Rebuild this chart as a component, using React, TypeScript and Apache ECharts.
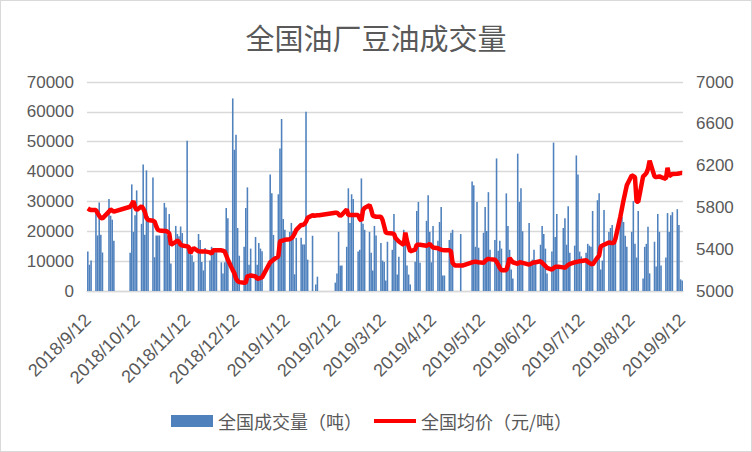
import React, { useEffect, useRef } from "react";
import * as echarts from "echarts";

// Weekly rows (Mon..Fri), first row = week of 2018/9/10
const volumeWeeks: (number | null)[][] = [
  [null, null, 13200, 8800, 10200],
  [26000, 18600, 29600, 18800, 12900],
  [null, 30800, 25200, 23900, 16800],
  [null, null, null, null, null],
  [12800, 35700, 19800, 25400, 33700],
  [22500, 42400, 18800, 40400, 25000],
  [38000, 11300, 18600, 18600, 18600],
  [29500, 28000, 18600, 25800, 9200],
  [21800, 19100, 18300, 21600, 19400],
  [50300, 14700, 14700, 12000, 9700],
  [19100, 17100, 9700, 6900, 14400],
  [10200, 14800, 14400, 14000, 13000],
  [9600, 5900, 9600, 27800, 24400],
  [64500, 47300, 52300, 21100, 11800],
  [14800, 27800, 34700, 8800, 14200],
  [18100, 8800, 16100, 14200, 13300],
  [null, null, 39000, 32700, 18800],
  [32400, 47700, 57600, 24100, 20500],
  [19800, 22800, 20000, 5600, 17800],
  [17800, 15600, 15600, 60000, 10500],
  [18500, null, 2200, 4800, null],
  [null, null, null, null, null],
  [2800, 5900, 19800, 8500, 8500],
  [14800, 34400, 22800, 32400, 30800],
  [13200, 13800, 37700, 22500, 20500],
  [19800, 12800, 6900, 21800, 18600],
  [16100, 10200, 9700, 3500, 16500],
  [13800, 25800, 17500, 5500, 11500],
  [20500, 15800, 8500, 5500, 2200],
  [9800, 26800, 29800, 9500, null],
  [23500, 32100, 19800, 9600, 21800],
  [16800, 23100, 28100, 5200, 5200],
  [17100, 19500, 20500, null, null],
  [19100, null, null, null, null],
  [36700, 35400, 14800, 29800, 14500],
  [19500, 28100, 20100, 33100, 13800],
  [17100, 44400, 13500, 16800, 14200],
  [32700, 21800, 13800, 7200, 4200],
  [46000, 29800, 34400, 20000, null],
  [22800, 9200, 10500, 13800, 10200],
  [15500, 21800, 19100, 14200, 5900],
  [13200, 49700, 18100, 25800, 8000],
  [21100, 24400, 15500, 28400, 12800],
  [15200, 45400, 39000, 13200, 11600],
  [12800, 15800, 15200, 14800, 26800],
  [30400, 32700, 7200, 10200, 27100],
  [19800, 21100, 22100, 17100, 18500],
  [25800, 24800, 23100, 18500, 14800],
  [19800, 30100, 15800, 11200, 26800],
  [4200, 14800, 15800, 21500, 5900],
  [16500, 8200, 25800, 19800, 8500],
  [11200, 26100, 19800, 25400, 26400],
  [27400, 22100, 3900, 3500, null],
];

const priceWeeks: (number | null)[][] = [
  [null, null, 5790, 5780, 5775],
  [5775, 5745, 5720, 5700, 5695],
  [null, 5760, 5780, 5770, 5760],
  [null, null, null, null, null],
  [5806, 5830, 5860, 5800, 5775],
  [5812, 5790, 5758, 5700, 5680],
  [5673, 5664, 5620, 5585, 5580],
  [5575, 5575, 5565, 5553, 5442],
  [5470, 5483, 5470, 5442, 5435],
  [5427, 5420, 5363, 5390, 5410],
  [5380, 5379, 5379, 5379, 5379],
  [5370, 5357, 5389, 5389, 5389],
  [5389, 5385, 5379, 5340, 5300],
  [5200, 5170, 5120, 5095, 5085],
  [5079, 5079, 5142, 5145, 5149],
  [5140, 5117, 5120, 5126, 5130],
  [null, null, 5275, 5285, 5300],
  [5332, 5474, 5480, 5483, 5490],
  [5496, 5505, 5521, 5550, 5585],
  [5632, 5632, 5640, 5664, 5700],
  [5725, 5720, 5722, 5724, 5724],
  [null, null, null, null, null],
  [5749, 5749, 5735, 5717, 5730],
  [5780, 5727, 5727, 5727, 5727],
  [5727, 5690, 5673, 5774, 5795],
  [5822, 5780, 5720, 5715, 5711],
  [5711, 5679, 5620, 5559, 5555],
  [5550, 5547, 5506, 5490, 5474],
  [5440, 5559, 5480, 5427, 5379],
  [5395, 5442, 5442, 5442, null],
  [5433, 5440, 5452, 5430, 5417],
  [5410, 5400, 5395, 5392, 5390],
  [5389, 5379, 5269, 5250, 5243],
  [5243, 5243, null, null, null],
  [5275, 5278, 5281, 5278, 5275],
  [5269, 5285, 5300, 5307, 5305],
  [5300, 5280, 5253, 5220, 5199],
  [5199, 5250, 5316, 5295, 5275],
  [5260, 5275, 5272, 5269, null],
  [5253, 5260, 5269, 5272, 5275],
  [5284, 5270, 5253, 5240, 5221],
  [5205, 5218, 5231, 5231, 5231],
  [5226, 5221, 5235, 5250, 5259],
  [5275, 5278, 5281, 5284, 5288],
  [5294, 5280, 5269, 5260, 5253],
  [5320, 5338, 5427, 5435, 5442],
  [5465, 5462, 5460, 5458, 5500],
  [5711, 5790, 5869, 5940, 6011],
  [6106, 6100, 6090, 5853, 5853],
  [6097, 6110, 6128, 6169, 6248],
  [6097, 6090, 6092, 6097, 6090],
  [6074, 6179, 6097, 6110, 6120],
  [6122, 6125, 6128, 6128, null],
];

const TITLE = "全国油厂豆油成交量";
const BAR_NAME = "全国成交量（吨）";
const LINE_NAME = "全国均价（元/吨）";

const DAY = 86400000;
const START = Date.UTC(2018, 8, 12);
const END = Date.UTC(2019, 8, 12);
const FIRST_MONDAY = Date.UTC(2018, 8, 10);

function fmt(t: number): string {
  const d = new Date(t);
  return `${d.getUTCFullYear()}/${d.getUTCMonth() + 1}/${d.getUTCDate()}`;
}

const categories: string[] = [];
for (let t = START; t <= END; t += DAY) categories.push(fmt(t));

const volumes: (number | null)[] = categories.map(() => null);
const prices: (number | null)[] = categories.map(() => null);
volumeWeeks.forEach((week, k) => {
  week.forEach((v, j) => {
    const idx = Math.round((FIRST_MONDAY + (7 * k + j) * DAY - START) / DAY);
    if (idx >= 0 && idx < categories.length) {
      volumes[idx] = v;
      prices[idx] = priceWeeks[k][j];
    }
  });
});

const FONT = "'Liberation Sans', 'Noto Sans CJK SC', sans-serif";
const CJK = "'Noto Sans CJK SC', sans-serif";
const TEXT = "#595959";
const GRID = "#D9D9D9";

const isMonthTick = (_i: number, v: string) => v.endsWith("/12");
const plain = (v: number) => String(v);

export default function App() {
  const ref = useRef<HTMLDivElement>(null);
  useEffect(() => {
    if (!ref.current) return;
    const chart = echarts.init(ref.current, undefined, { renderer: "svg" });
    chart.setOption({
      animation: false,
      backgroundColor: "#ffffff",
      textStyle: { fontFamily: FONT },
      title: {
        text: TITLE,
        left: "center",
        top: 16,
        textStyle: { fontSize: 29, fontWeight: "normal", color: TEXT, fontFamily: CJK },
      },
      legend: {
        top: 406,
        left: 165,
        itemWidth: 42,
        itemHeight: 12,
        itemGap: 12,
        symbolKeepAspect: true,
        textStyle: { fontSize: 18, color: TEXT, fontFamily: CJK },
        data: [
          { name: BAR_NAME, icon: "rect" },
          { name: LINE_NAME, icon: "path://M0,0H45V4.5H0Z", itemStyle: { color: "#FF0000" } },
        ],
      },
      grid: { left: 86, right: 68, top: 81, bottom: 160 },
      xAxis: {
        type: "category",
        data: categories,
        boundaryGap: true,
        axisLine: { lineStyle: { color: GRID, width: 1.3 } },
        axisTick: { interval: isMonthTick, length: 6, lineStyle: { color: GRID, width: 1.3 } },
        axisLabel: { interval: isMonthTick, rotate: 45, fontSize: 18, color: TEXT, margin: 26 },
      },
      yAxis: [
        {
          type: "value",
          min: 0,
          max: 70000,
          interval: 10000,
          axisLine: { show: false },
          axisTick: { show: false },
          axisLabel: { fontSize: 17, color: TEXT, margin: 13, formatter: plain },
          splitLine: { lineStyle: { color: GRID, width: 1.3 } },
        },
        {
          type: "value",
          min: 5000,
          max: 7000,
          interval: 400,
          axisLine: { show: false },
          axisTick: { show: false },
          axisLabel: { fontSize: 17, color: TEXT, margin: 13, formatter: plain },
          splitLine: { show: false },
        },
      ],
      series: [
        {
          name: BAR_NAME,
          type: "bar",
          data: volumes,
          barCategoryGap: "4%",
          itemStyle: { color: "#4F81BD" },
        },
        {
          name: LINE_NAME,
          type: "line",
          yAxisIndex: 1,
          data: prices,
          connectNulls: true,
          symbol: "none",
          showSymbol: false,
          lineStyle: { color: "#FF0000", width: 4.5 },
          itemStyle: { color: "#FF0000" },
        },
      ],
    });
    return () => chart.dispose();
  }, []);
  return (
    <div
      style={{
        position: "fixed",
        left: 0,
        top: 0,
        width: 752,
        height: 452,
        boxSizing: "border-box",
        border: "1px solid #D9D9D9",
        background: "#fff",
      }}
    >
      <div ref={ref} style={{ width: 750, height: 450 }} />
    </div>
  );
}
